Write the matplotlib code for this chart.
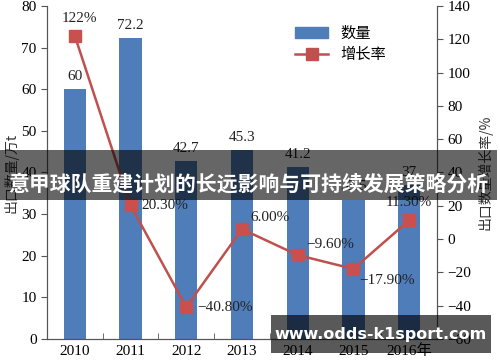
import matplotlib
matplotlib.use("Agg")
import matplotlib.pyplot as plt
from matplotlib.patches import Rectangle
from matplotlib.lines import Line2D
from matplotlib.patches import Patch

# 数据
years = ["2010", "2011", "2012", "2013", "2014", "2015", "2016年"]
amount = [60, 72.2, 42.7, 45.3, 41.2, 33.5, 37]
amount_labels = ["60", "72.2", "42.7", "45.3", "41.2", "33.5", "37"]
growth = [122, 20.3, -40.8, 6.0, -9.6, -17.9, 11.3]
growth_labels = ["122%", "20.30%", "\u221240.80%", "6.00%", "\u22129.60%", "\u221217.90%", "11.30%"]

title = "意甲球队重建计划的长远影响与可持续发展策略分析"
watermark = "www.odds-k1sport.com"

serif = ["Liberation Serif", "Noto Sans CJK SC"]
cjk = ["Noto Sans CJK SC", "DejaVu Sans"]
blue = "#4f7dba"
red = "#c0504d"
grey = "#555555"

fig = plt.figure(figsize=(5, 3.62), dpi=100)
ax = fig.add_axes([0.094, 0.0635, 0.78, 0.92])
ax2 = ax.twinx()

x = list(range(len(years)))
ax.bar(x, amount, width=0.4, color=blue, zorder=2)
ax.set_xlim(-0.5, len(years) - 0.5)
ax.set_ylim(0, 80)
ax.set_yticks(range(0, 81, 10))
ax.set_xticks(x)
ax.set_xticklabels(years, family=serif, fontsize=11)
ax.tick_params(axis="x", length=0, pad=4)
ax.set_xticks([i + 0.5 for i in x[:-1]], minor=True)
ax.tick_params(axis="x", which="minor", length=4, direction="in", color=grey)
ax.tick_params(axis="y", length=4, color=grey, labelsize=11)
for t in ax.get_yticklabels():
    t.set_family(serif)

for i, lab in enumerate(amount_labels):
    ax.text(i, amount[i] + 1.5, lab, ha="center", va="bottom",
            family=serif, fontsize=11, color="#222222", zorder=3)

ax2.plot(x, growth, color=red, lw=1.8, marker="s", markersize=9,
         markerfacecolor="#c9504f", markeredgecolor="#c9504f", zorder=4)
ax2.set_ylim(-60, 140)
ax2.set_yticks(range(-60, 141, 20))
ax2.set_yticklabels([str(v).replace("-", "\u2212") for v in range(-60, 141, 20)],
                    family=serif, fontsize=11)
ax2.tick_params(axis="y", length=4, color=grey)

# 增长率标注 (偏移以像素点计)
offsets = [(3, 8, "center", "bottom"), (8, 0, "left", "center"),
           (8, 0, "left", "center"), (6, 4, "left", "bottom"),
           (6, 3, "left", "bottom"), (4, -4, "left", "top"),
           (0, 8, "center", "bottom")]
for i, (dx, dy, ha, va) in enumerate(offsets):
    ax2.annotate(growth_labels[i], (i, growth[i]), xytext=(dx, dy),
                 textcoords="offset points", ha=ha, va=va,
                 family=serif, fontsize=11, color="#222222", zorder=5)

for a in (ax, ax2):
    a.spines["top"].set_visible(False)
    for s in ("left", "right", "bottom"):
        a.spines[s].set_color(grey)

ax.set_ylabel("出口数量/万t", family=cjk, fontsize=10, color="#333333", labelpad=2)
ax2.set_ylabel("出口数量增长率/%", family=cjk, fontsize=10, color="#333333",
               rotation=90, labelpad=4)

handles = [Patch(color=blue), Line2D([], [], color=red, lw=1.8, marker="s", markersize=8)]
ax.legend(handles, ["数量", "增长率"], loc="upper left", bbox_to_anchor=(0.6, 0.985),
          frameon=False, prop={"family": cjk, "size": 11}, handlelength=2.2,
          labelspacing=0.3)

# 标题横幅
fig.patches.append(Rectangle((0, 0.4475), 0.994, 0.138, transform=fig.transFigure,
                             facecolor="black", alpha=0.6, zorder=10))
fig.text(0.497, 0.492, title, ha="center", va="center", color="white",
         family=cjk, fontsize=15, fontweight="bold", zorder=11)

# 水印
fig.patches.append(Rectangle((0.542, 0.025), 0.44, 0.105, transform=fig.transFigure,
                             facecolor="black", alpha=0.65, zorder=10))
fig.text(0.762, 0.0765, watermark, ha="center", va="center", color="white",
         family="DejaVu Sans", fontsize=11.5, fontweight="bold", zorder=11)

fig.savefig("out.png", dpi=100)
